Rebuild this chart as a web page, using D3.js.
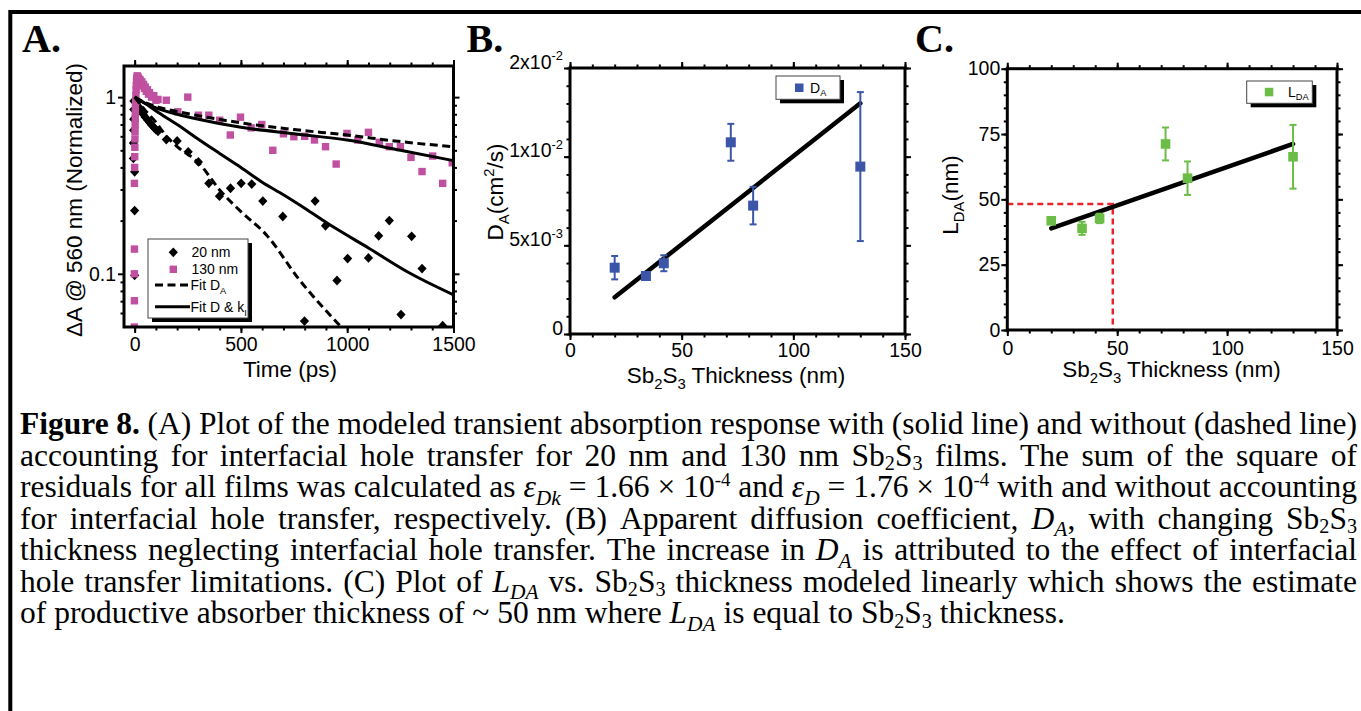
<!DOCTYPE html>
<html>
<head>
<meta charset="utf-8">
<script src="https://cdn.jsdelivr.net/npm/d3@7"></script>
<style>
  html, body { margin: 0; padding: 0; background: #fff; }
  svg { display: block; }
</style>
</head>
<body>
<svg id="fig" width="1361" height="711"></svg>
<script>
// ---------- Panel A: normalised transient absorption at 560 nm, [time (ps), ΔA] ----------
const film20nm = [
  [-6, 0.45], [-5.5, 0.55], [-5, 0.65], [-4.5, 0.75], [-4, 0.85], [-3.5, 0.95],
  [0, 0.378], [0, 0.228], [0, 0.098],
  [10, 0.93], [20, 0.88], [30, 0.84], [40, 0.8], [50, 0.77], [60, 0.745], [70, 0.72],
  [80, 0.695], [90, 0.675], [100, 0.655], [110, 0.64],
  [149, 0.575], [200, 0.565], [252, 0.49], [300, 0.43], [349, 0.325], [399, 0.275],
  [451, 0.305], [501, 0.325], [551, 0.322], [603, 0.258], [697, 0.211], [799, 0.054],
  [849, 0.258], [898, 0.187], [952, 0.0916], [1002, 0.122], [1100, 0.123], [1148, 0.164],
  [1198, 0.2], [1253, 0.0588], [1303, 0.163], [1352, 0.107], [1449, 0.0508]
];
const film130nm = [
  [-1, 0.05], [-1, 0.0704], [-1, 0.1], [-1, 0.138], [-1, 0.325],
  [0, 0.4], [0.5, 0.46], [1, 0.52], [1.5, 0.58], [2, 0.64], [2.5, 0.7], [3, 0.76],
  [3.5, 0.82], [4, 0.88], [5, 0.95], [6, 1.02], [7, 1.1], [8, 1.16], [9, 1.22], [10, 1.28],
  [12, 1.32], [14, 1.28], [16, 1.3], [18, 1.25], [20, 1.27], [23, 1.22], [26, 1.25],
  [30, 1.2], [34, 1.22], [38, 1.16], [42, 1.18], [46, 1.12], [50, 1.14], [55, 1.08],
  [60, 1.1], [65, 1.04], [70, 1.06], [80, 1.0], [90, 1.02], [100, 0.96], [110, 0.97],
  [149, 0.96], [203, 0.826], [250, 1.0], [300, 0.79], [349, 0.79], [400, 0.74], [450, 0.61],
  [498, 0.77], [548, 0.67], [598, 0.7], [650, 0.5], [700, 0.62], [749, 0.597], [800, 0.6],
  [846, 0.572], [898, 0.524], [948, 0.418], [999, 0.623], [1050, 0.572], [1100, 0.632],
  [1151, 0.555], [1198, 0.524], [1250, 0.524], [1300, 0.456], [1352, 0.379], [1402, 0.464],
  [1449, 0.325], [1494, 0.425]
];
const fit20DA = [[0, 1], [50, 0.84], [100, 0.72], [150, 0.6], [200, 0.525], [305, 0.42],
  [400, 0.298], [500, 0.225], [620, 0.166], [775, 0.0925], [963, 0.0513], [1000, 0.046]];
const fit20Dk = [[0, 1], [50, 0.92], [117, 0.81], [200, 0.7], [305, 0.572], [400, 0.48],
  [500, 0.4], [600, 0.33], [700, 0.28], [800, 0.235], [932, 0.185], [1100, 0.14],
  [1300, 0.1], [1500, 0.076]];
const fit130DA = [[0, 1], [50, 0.93], [100, 0.885], [200, 0.83], [300, 0.785], [500, 0.715],
  [750, 0.655], [1000, 0.61], [1250, 0.56], [1500, 0.524]];
const fit130Dk = [[0, 1], [50, 0.92], [100, 0.87], [200, 0.8], [300, 0.75], [500, 0.675],
  [750, 0.62], [1000, 0.572], [1250, 0.5], [1500, 0.437]];
const timeTicks = [0, 500, 1000, 1500];
const timeTickLabels = ['0', '500', '1000', '1500'];
const absTicks = [0.1, 1];
const absTickLabels = ['0.1', '1'];
const legendLabelsA = [['20 nm', ''], ['130 nm', ''], ['Fit D', 'A'], ['Fit D & k', 'I']];

// ---------- Panel B: apparent diffusion coefficient vs Sb2S3 thickness ----------
const thickness = [20, 34, 42, 72, 82, 130];
const diffusionCoef = [0.00374, 0.00327, 0.00399, 0.01081, 0.00724, 0.00944];
const diffusionErr = [0.00066, 0.0002, 0.00045, 0.00104, 0.00106, 0.0042];
const diffusionFit = [[20, 0.00207], [130, 0.01301]];
const thicknessTicks = [0, 50, 100, 150];
const diffTicks = [0, 0.005, 0.01, 0.015];
const diffTickLabels = [['0', ''], ['5x10', '-3'], ['1x10', '-2'], ['2x10', '-2']];

// ---------- Panel C: diffusion length vs Sb2S3 thickness ----------
const diffusionLength = [41.8, 38.9, 42.7, 71.2, 58.1, 66.3];
const diffusionLengthErr = [1.2, 2.5, 1.8, 6.3, 6.4, 12.2];
const lengthFit = [[20, 38.9], [130, 71.2]];
const productiveThickness = [48, 48.2];
const lengthTicks = [0, 25, 50, 75, 100];

// ---------- caption ----------
const captionLines = [
  '[b:Figure 8.] (A) Plot of the modeled transient absorption response with (solid line) and without (dashed line)',
  'accounting for interfacial hole transfer for 20 nm and 130 nm Sb[s:2]S[s:3] films. The sum of the square of',
  'residuals for all films was calculated as [i:ε][is:Dk] = 1.66 × 10[p:-4] and [i:ε][is:D] = 1.76 × 10[p:-4] with and without accounting',
  'for interfacial hole transfer, respectively. (B) Apparent diffusion coefficient, [i:D][is:A], with changing Sb[s:2]S[s:3]',
  'thickness neglecting interfacial hole transfer. The increase in [i:D][is:A] is attributed to the effect of interfacial',
  'hole transfer limitations. (C) Plot of [i:L][is:DA] vs. Sb[s:2]S[s:3] thickness modeled linearly which shows the estimate',
  'of productive absorber thickness of ~ 50 nm where [i:L][is:DA] is equal to Sb[s:2]S[s:3] thickness.'
];

// ---------- styles ----------
const SANS = '"Liberation Sans", Arial, Helvetica, sans-serif';
const SERIF = '"Liberation Serif", "Times New Roman", Times, serif';
const PINK = '#c050a0';
const BLUE = '#3b56a8';
const GREEN = '#6cbd47';
const RED = '#e8232b';
const TICK_FONT = 19.5;
const TITLE_FONT = 22.5;

const svg = d3.select('#fig');
svg.append('rect').attr('width', 1361).attr('height', 711).attr('fill', '#fff');

// outer rule of the figure box
svg.append('path').attr('d', 'M10.3,711 V12 H1361')
  .attr('fill', 'none').attr('stroke', '#000').attr('stroke-width', 4);

// text with sub/superscript pieces: parts = [[text, 'sub'|'sup'|'']]
function rich(sel, parts, size) {
  let cur = 0;
  parts.forEach(([t, k]) => {
    if (!t) return;
    const shift = k === 'sub' ? size * 0.28 : k === 'sup' ? -size * 0.42 : 0;
    const ts = sel.append('tspan').text(t).attr('dy', shift - cur);
    if (k) ts.attr('font-size', size * 0.66);
    cur = shift;
  });
  return sel;
}

// frame + mirrored outward ticks on all four sides
function frameAxes(x, y, cfg) {
  const [x0, x1] = x.range(), [y0, y1] = y.range();
  const g = svg.append('g');
  const sides = [
    { gen: d3.axisBottom(x), tr: `translate(0,${y0})`, major: cfg.xMajor, minor: cfg.xMinor, lab: cfg.xLabels, pad: cfg.xPad },
    { gen: d3.axisTop(x), tr: `translate(0,${y1})`, major: cfg.xMajor, minor: cfg.xMinor },
    { gen: d3.axisLeft(y), tr: `translate(${x0},0)`, major: cfg.yMajor, minor: cfg.yMinor, lab: cfg.yLabels, pad: cfg.yPad },
    { gen: d3.axisRight(y), tr: `translate(${x1},0)`, major: cfg.yMajor, minor: cfg.yMinor }
  ];
  sides.forEach(s => {
    const gm = g.append('g').attr('transform', s.tr)
      .call(s.gen.tickValues(s.minor).tickSize(3.5).tickSizeOuter(0).tickFormat(''));
    gm.select('.domain').remove();
    gm.selectAll('line').attr('stroke-width', 2);
    const gen2 = s.gen.tickValues(s.major).tickSize(6).tickSizeOuter(0)
      .tickPadding(s.pad || 0)
      .tickFormat(s.lab ? (d, i) => (typeof s.lab[i] === 'string' ? s.lab[i] : '') : '');
    const gM = g.append('g').attr('transform', s.tr).call(gen2);
    gM.select('.domain').remove();
    gM.selectAll('line').attr('stroke-width', 2);
    gM.selectAll('text').attr('font-family', SANS).attr('font-size', TICK_FONT).attr('fill', '#000');
    if (s.lab && Array.isArray(s.lab[0])) {
      gM.selectAll('text').each(function (d, i) {
        const t = d3.select(this).text('');
        rich(t, [[s.lab[i][0], ''], [s.lab[i][1], 'sup']], TICK_FONT);
      });
    }
  });
  g.append('rect').attr('x', x0).attr('y', y1).attr('width', x1 - x0).attr('height', y0 - y1)
    .attr('fill', 'none').attr('stroke', '#000').attr('stroke-width', 3);
  return g;
}

function panelLetter(label, x) {
  svg.append('text').attr('x', x).attr('y', 52).text(label)
    .attr('font-family', SERIF).attr('font-weight', 'bold').attr('font-size', 40);
}

function legendBox(x, y, w, h) {
  svg.append('rect').attr('x', x + 4).attr('y', y + 4).attr('width', w).attr('height', h).attr('fill', '#000');
  svg.append('rect').attr('x', x).attr('y', y).attr('width', w).attr('height', h)
    .attr('fill', '#fff').attr('stroke', '#444').attr('stroke-width', 1);
}

const diamond = r => `M0,${-r * 1.07}L${r},0L0,${r * 1.07}L${-r},0Z`;

// =================== Panel A ===================
panelLetter('A.', 22);
const xA = d3.scaleLinear().domain([-50, 1500]).range([124, 453.5]);
const yA = d3.scaleLog().domain([0.05, 1.5]).range([327, 66]);
svg.append('clipPath').attr('id', 'clipA').append('rect')
  .attr('x', 124).attr('y', 66).attr('width', 329.5).attr('height', 261);
const plotA = svg.append('g').attr('clip-path', 'url(#clipA)');

plotA.append('g').selectAll('path').data(film20nm).join('path')
  .attr('transform', d => `translate(${xA(d[0])},${yA(d[1])})`)
  .attr('d', diamond(4.6)).attr('fill', '#000');
plotA.append('g').selectAll('rect').data(film130nm).join('rect')
  .attr('x', d => xA(d[0]) - 3.7).attr('y', d => yA(d[1]) - 3.7)
  .attr('width', 7.4).attr('height', 7.4).attr('fill', PINK);

const lineA = d3.line().x(d => xA(d[0])).y(d => yA(d[1])).curve(d3.curveMonotoneX);
[[fit20DA, true], [fit130DA, true], [fit20Dk, false], [fit130Dk, false]].forEach(([data, dashed]) => {
  plotA.append('path').datum(data).attr('d', lineA)
    .attr('fill', 'none').attr('stroke', '#000').attr('stroke-width', 3)
    .attr('stroke-dasharray', dashed ? '8,4.5' : null);
});

frameAxes(xA, yA, {
  xMajor: timeTicks, xMinor: d3.range(0, 1501, 100), xLabels: timeTickLabels, xPad: 4,
  yMajor: absTicks, yMinor: [0.06, 0.07, 0.08, 0.09, 0.2, 0.3, 0.4, 0.5, 0.6, 0.7, 0.8, 0.9],
  yLabels: absTickLabels, yPad: 2
});

svg.append('text').attr('x', 290).attr('y', 377).attr('text-anchor', 'middle')
  .attr('font-family', SANS).attr('font-size', TITLE_FONT).text('Time (ps)');
svg.append('text').attr('transform', 'translate(82,200) rotate(-90)').attr('text-anchor', 'middle')
  .attr('font-family', SANS).attr('font-size', TITLE_FONT).text('ΔA @ 560 nm (Normalized)');

// legend A
legendBox(148, 239, 100, 79);
const lgRowsA = [252.3, 269.3, 285, 306.7];
svg.append('path').attr('transform', `translate(173.3,${lgRowsA[0]})`).attr('d', diamond(4.6)).attr('fill', '#000');
svg.append('rect').attr('x', 169.6).attr('y', lgRowsA[1] - 3.7).attr('width', 7.4).attr('height', 7.4).attr('fill', PINK);
svg.append('line').attr('x1', 155).attr('x2', 190).attr('y1', lgRowsA[2]).attr('y2', lgRowsA[2])
  .attr('stroke', '#000').attr('stroke-width', 3).attr('stroke-dasharray', '8,4.5');
svg.append('line').attr('x1', 155).attr('x2', 190).attr('y1', lgRowsA[3]).attr('y2', lgRowsA[3])
  .attr('stroke', '#000').attr('stroke-width', 3);
legendLabelsA.forEach((lab, i) => {
  const t = svg.append('text').attr('x', i < 2 ? 191.5 : 190.5).attr('y', lgRowsA[i] + 5)
    .attr('font-family', SANS).attr('font-size', 14);
  rich(t, [[lab[0], ''], [lab[1], 'sub']], 14);
});

// =================== Panel B ===================
panelLetter('B.', 466.5);
const xB = d3.scaleLinear().domain([0, 150]).range([570, 905]);
const yB = d3.scaleLinear().domain([0, 0.015]).range([334, 68]);

svg.append('path').datum(diffusionFit)
  .attr('d', d3.line().x(d => xB(d[0])).y(d => yB(d[1])))
  .attr('stroke', '#000').attr('stroke-width', 4.5).attr('stroke-linecap', 'round').attr('fill', 'none');

const ptsB = thickness.map((t, i) => ({ x: t, y: diffusionCoef[i], e: diffusionErr[i] }));
const errB = svg.append('g').attr('stroke', BLUE).attr('stroke-width', 2);
ptsB.forEach(p => {
  const cx = xB(p.x), top = yB(p.y + p.e), bot = yB(p.y - p.e);
  errB.append('line').attr('x1', cx).attr('x2', cx).attr('y1', top).attr('y2', bot);
  errB.append('line').attr('x1', cx - 3.5).attr('x2', cx + 3.5).attr('y1', top).attr('y2', top);
  errB.append('line').attr('x1', cx - 3.5).attr('x2', cx + 3.5).attr('y1', bot).attr('y2', bot);
});
svg.append('g').selectAll('rect').data(ptsB).join('rect')
  .attr('x', d => xB(d.x) - 5).attr('y', d => yB(d.y) - 5)
  .attr('width', 10).attr('height', 10).attr('fill', BLUE);

frameAxes(xB, yB, {
  xMajor: thicknessTicks, xMinor: d3.range(0, 151, 10), xLabels: thicknessTicks.map(String), xPad: 3,
  yMajor: diffTicks, yMinor: d3.range(0, 16).map(k => k * 0.001), yLabels: diffTickLabels, yPad: 1
});

rich(svg.append('text').attr('x', 736).attr('y', 383).attr('text-anchor', 'middle')
  .attr('font-family', SANS).attr('font-size', TITLE_FONT),
  [['Sb', ''], ['2', 'sub'], ['S', ''], ['3', 'sub'], [' Thickness (nm)', '']], TITLE_FONT);
rich(svg.append('text').attr('transform', 'translate(503,192) rotate(-90)').attr('text-anchor', 'middle')
  .attr('font-family', SANS).attr('font-size', TITLE_FONT),
  [['D', ''], ['A', 'sub'], ['(cm', ''], ['2', 'sup'], ['/s)', '']], TITLE_FONT);

legendBox(776, 76, 64, 23.3);
svg.append('rect').attr('x', 795).attr('y', 83.5).attr('width', 8.5).attr('height', 8.5).attr('fill', BLUE);
rich(svg.append('text').attr('x', 810).attr('y', 92.5).attr('font-family', SANS).attr('font-size', 14),
  [['D', ''], ['A', 'sub']], 14);

// =================== Panel C ===================
panelLetter('C.', 915);
const xC = d3.scaleLinear().domain([0, 150]).range([1007.3, 1337]);
const yC = d3.scaleLinear().domain([0, 100]).range([330, 68.7]);

// guide to the thickness where L_DA equals film thickness
svg.append('path')
  .attr('d', `M${xC(0)},${yC(productiveThickness[1])}H${xC(productiveThickness[0])}V${yC(0)}`)
  .attr('fill', 'none').attr('stroke', RED).attr('stroke-width', 2.5).attr('stroke-dasharray', '6,4');

svg.append('path').datum(lengthFit)
  .attr('d', d3.line().x(d => xC(d[0])).y(d => yC(d[1])))
  .attr('stroke', '#000').attr('stroke-width', 4.5).attr('stroke-linecap', 'round').attr('fill', 'none');

const ptsC = thickness.map((t, i) => ({ x: t, y: diffusionLength[i], e: diffusionLengthErr[i] }));
const errC = svg.append('g').attr('stroke', GREEN).attr('stroke-width', 2);
ptsC.forEach(p => {
  const cx = xC(p.x), top = yC(p.y + p.e), bot = yC(p.y - p.e);
  errC.append('line').attr('x1', cx).attr('x2', cx).attr('y1', top).attr('y2', bot);
  errC.append('line').attr('x1', cx - 3.5).attr('x2', cx + 3.5).attr('y1', top).attr('y2', top);
  errC.append('line').attr('x1', cx - 3.5).attr('x2', cx + 3.5).attr('y1', bot).attr('y2', bot);
});
svg.append('g').selectAll('rect').data(ptsC).join('rect')
  .attr('x', d => xC(d.x) - 4.8).attr('y', d => yC(d.y) - 4.8)
  .attr('width', 9.6).attr('height', 9.6).attr('fill', GREEN);

frameAxes(xC, yC, {
  xMajor: thicknessTicks, xMinor: d3.range(0, 151, 10), xLabels: thicknessTicks.map(String), xPad: 5,
  yMajor: lengthTicks, yMinor: d3.range(0, 101, 5), yLabels: lengthTicks.map(String), yPad: 1
});

rich(svg.append('text').attr('x', 1171.5).attr('y', 376.5).attr('text-anchor', 'middle')
  .attr('font-family', SANS).attr('font-size', TITLE_FONT),
  [['Sb', ''], ['2', 'sub'], ['S', ''], ['3', 'sub'], [' Thickness (nm)', '']], TITLE_FONT);
rich(svg.append('text').attr('transform', 'translate(958,195) rotate(-90)').attr('text-anchor', 'middle')
  .attr('font-family', SANS).attr('font-size', TITLE_FONT),
  [['L', ''], ['DA', 'sub'], ['(nm)', '']], TITLE_FONT);

legendBox(1246.7, 81, 65.6, 22.3);
svg.append('rect').attr('x', 1264.8).attr('y', 87.8).attr('width', 8.5).attr('height', 8.5).attr('fill', GREEN);
rich(svg.append('text').attr('x', 1288).attr('y', 96.5).attr('font-family', SANS).attr('font-size', 14),
  [['L', ''], ['DA', 'sub']], 14);

// =================== Caption (justified lines) ===================
function parseRuns(str) {
  const re = /\[(b|i|is|s|p):([^\]]*)\]/g;
  const out = []; let last = 0, m;
  while ((m = re.exec(str))) {
    if (m.index > last) out.push({ t: str.slice(last, m.index), k: 'n' });
    out.push({ t: m[2], k: m[1] });
    last = re.lastIndex;
  }
  if (last < str.length) out.push({ t: str.slice(last), k: 'n' });
  return out;
}
function splitWords(runs) {
  const words = [[]];
  runs.forEach(r => {
    r.t.split(' ').forEach((piece, j) => {
      if (j > 0) words.push([]);
      if (piece) words[words.length - 1].push({ t: piece, k: r.k });
    });
  });
  return words.filter(w => w.length);
}
const CAP = { x0: 20, x1: 1357, base: 434, lead: 31.55, size: 31.5 };
const capG = svg.append('g');
captionLines.forEach((line, li) => {
  const words = splitWords(parseRuns(line));
  const y = CAP.base + li * CAP.lead;
  const nodes = words.map(w => {
    const t = capG.append('text').attr('y', y).attr('font-family', SERIF).attr('font-size', CAP.size);
    let cur = 0;
    w.forEach(p => {
      let shift = 0;
      const ts = t.append('tspan').text(p.t);
      if (p.k === 'b') ts.attr('font-weight', 'bold');
      if (p.k === 'i') ts.attr('font-style', 'italic');
      if (p.k === 's') { shift = CAP.size * 0.15; ts.attr('font-size', CAP.size * 0.64); }
      if (p.k === 'is') { shift = CAP.size * 0.24; ts.attr('font-size', CAP.size * 0.68).attr('font-style', 'italic'); }
      if (p.k === 'p') { shift = -CAP.size * 0.36; ts.attr('font-size', CAP.size * 0.6); }
      ts.attr('dy', shift - cur);
      cur = shift;
    });
    return t;
  });
  const widths = nodes.map(n => n.node().getComputedTextLength());
  const total = d3.sum(widths);
  const isLast = li === captionLines.length - 1;
  const gap = isLast ? CAP.size * 0.25 : Math.max(3, (CAP.x1 - CAP.x0 - total) / (nodes.length - 1));
  let x = CAP.x0;
  nodes.forEach((n, i) => {
    n.attr('x', x);
    x += widths[i] + gap;
  });
});
</script>
</body>
</html>
